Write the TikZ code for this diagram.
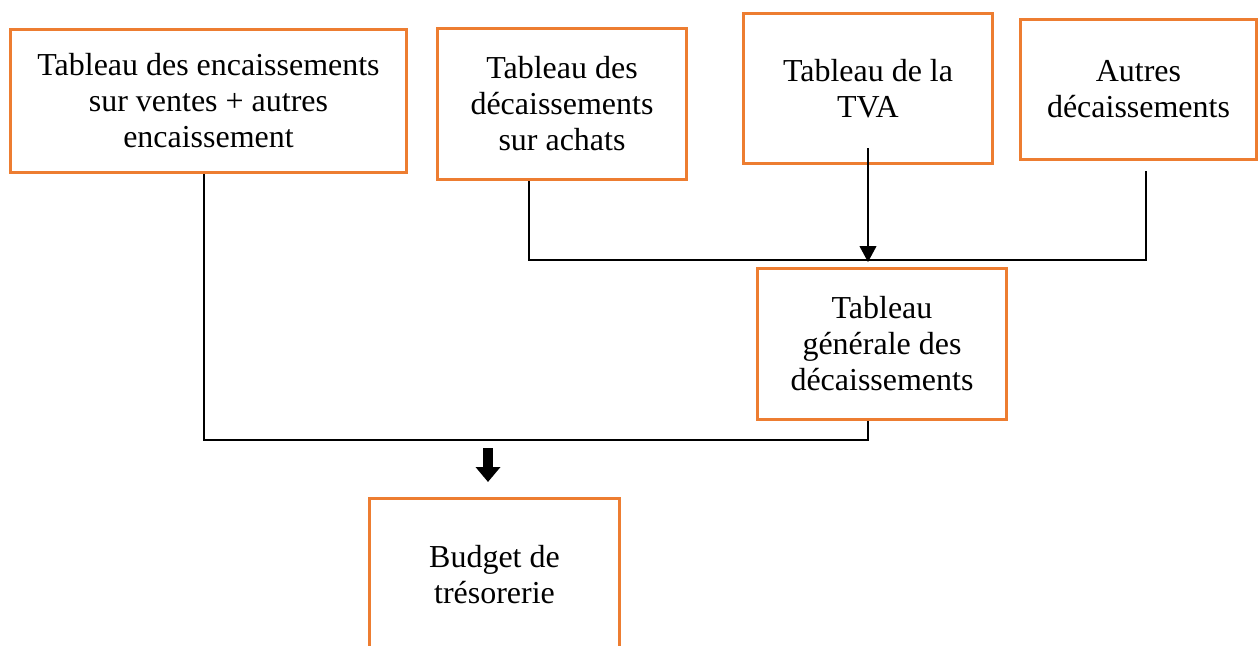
\documentclass[tikz,border=0pt]{standalone}
\usepackage{fontspec}
\setmainfont{Liberation Serif}
\usetikzlibrary{arrows.meta,calc}
\definecolor{boxorange}{RGB}{237,125,49}
\begin{document}
\begin{tikzpicture}[x=0.02cm,y=-0.02cm,
  box/.style={draw=boxorange, line width=1.7pt, align=center, inner sep=0pt,
    font=\fontsize{18.2}{20.5}\selectfont},
  link/.style={draw=black, line width=0.8pt},
  tip/.style={-{Triangle[length=9pt,width=9.5pt]}},
  bigarrow/.style={draw=black, line width=0.2cm, -{Triangle[length=0.3cm,width=0.48cm]}}]
\clip (0,0) rectangle (1259,646);

% Source tables
\node[box, minimum width=7.94cm, minimum height=2.88cm] (enc) at (208.5,101)
  {Tableau des encaissements\\sur ventes + autres\\encaissement};
\node[box, minimum width=5.0cm, minimum height=3.04cm] (achats) at (562,104)
  {Tableau des\\décaissements\\sur achats};
\node[box, minimum width=5.0cm, minimum height=3.02cm] (tva) at (868,88.5)
  {Tableau de la\\TVA};
\node[box, minimum width=4.74cm, minimum height=2.82cm] (autres) at (1138.5,89.5)
  {Autres\\décaissements};

% Summary tables
\node[box, minimum width=5.0cm, minimum height=3.04cm] (gen) at (882,344)
  {Tableau\\générale des\\décaissements};
\node[box, minimum width=5.02cm, minimum height=3.08cm] (budget) at (494.5,575)
  {Budget de\\trésorerie};

% Disbursements collector
\coordinate (achatsOut) at ($(achats.south)+(-33,0)$);
\coordinate (autresOut) at ($(autres.south)+(7.5,10)$);
\coordinate (tvaStart) at ($(tva.south)+(0,-17)$);
\draw[link] (achatsOut) |- (autresOut |- 0,260) -- (autresOut);
\draw[link, tip] (tvaStart) -- (tvaStart |- 0,262);

% Receipts and disbursements collector
\coordinate (encOut) at ($(enc.south)+(-4.5,0)$);
\coordinate (genOut) at ($(gen.south)+(-14,0)$);
\draw[link] (encOut) |- (genOut |- 0,440) -- (genOut);

% Flow into the cash budget
\coordinate (flowTop) at (488,448);
\coordinate (flowEnd) at (488,482);
\draw[bigarrow] (flowTop) -- (flowEnd);
\end{tikzpicture}
\end{document}
